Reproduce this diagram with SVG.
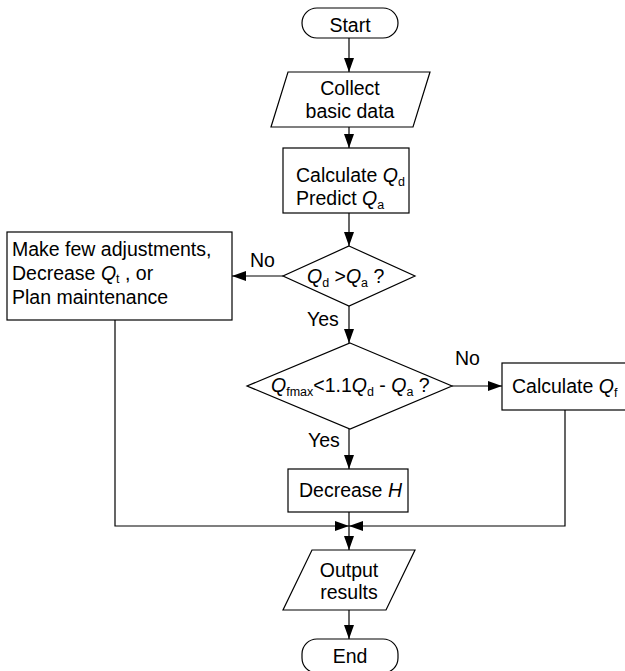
<svg xmlns="http://www.w3.org/2000/svg" width="625" height="671" viewBox="0 0 625 671">
<defs>
<style>
.s{fill:#fff;stroke:#000;stroke-width:1.2}
.c{fill:none;stroke:#000;stroke-width:1.2}
text{font-family:"Liberation Sans",Arial,sans-serif;font-size:19.5px;fill:#000}
.m{text-anchor:middle}
.i{font-style:italic}
.sub{font-size:12.5px;font-style:normal}
</style>
<marker id="ah" markerUnits="userSpaceOnUse" markerWidth="15" markerHeight="11" refX="14" refY="5" orient="auto">
<path d="M0,0 L14,5 L0,10 Z" fill="#000"/>
</marker>
</defs>
<rect width="625" height="671" fill="#fff"/>
<g id="connectors">
<path class="c" d="M349,38 V72" marker-end="url(#ah)"/>
<path class="c" d="M349,127 V148" marker-end="url(#ah)"/>
<path class="c" d="M349,213 V246" marker-end="url(#ah)"/>
<path class="c" d="M283,276 H232" marker-end="url(#ah)"/>
<path class="c" d="M349,306 V343" marker-end="url(#ah)"/>
<path class="c" d="M452,386 H502" marker-end="url(#ah)"/>
<path class="c" d="M349,429 V469" marker-end="url(#ah)"/>
<path class="c" d="M115,320 V526 H349" marker-end="url(#ah)"/>
<path class="c" d="M565,410 V526 H349" marker-end="url(#ah)"/>
<path class="c" d="M349,512 V550" marker-end="url(#ah)"/>
<path class="c" d="M349,610 V639" marker-end="url(#ah)"/>
<text x="250" y="267">No</text>
<text x="307" y="326">Yes</text>
<text x="455" y="365">No</text>
<text x="308" y="447">Yes</text>
</g>
<g id="start">
<rect class="s" x="302" y="8" width="96" height="30" rx="15"/>
<text class="m" x="350" y="32">Start</text>
</g>
<g id="collect">
<polygon class="s" points="288,72 430,72 413,127 271,127"/>
<text class="m" x="350" y="95">Collect</text>
<text class="m" x="350" y="118">basic data</text>
</g>
<g id="calc">
<rect class="s" x="283" y="148" width="126" height="65"/>
<text x="296" y="182">Calculate <tspan class="i">Q</tspan><tspan class="sub" dy="4">d</tspan></text>
<text x="296" y="205">Predict <tspan class="i">Q</tspan><tspan class="sub" dy="4">a</tspan></text>
</g>
<g id="d1">
<polygon class="s" points="349,246 415,276 349,306 283,276"/>
<text x="307" y="283"><tspan class="i">Q</tspan><tspan class="sub" dy="4">d</tspan><tspan dy="-4"> &gt;</tspan><tspan class="i">Q</tspan><tspan class="sub" dy="4">a</tspan><tspan dy="-4"> ?</tspan></text>
</g>
<g id="adjust">
<rect class="s" x="7" y="232" width="225" height="88"/>
<text x="12" y="256">Make few adjustments,</text>
<text x="12" y="280">Decrease <tspan class="i">Q</tspan><tspan class="sub" dy="3">t</tspan><tspan dy="-3"> , or</tspan></text>
<text x="12" y="304">Plan maintenance</text>
</g>
<g id="d2">
<polygon class="s" points="350,343 452,386 350,429 247,386"/>
<text x="271" y="392"><tspan class="i">Q</tspan><tspan class="sub" dy="4">fmax</tspan><tspan dy="-4">&lt;1.1</tspan><tspan class="i">Q</tspan><tspan class="sub" dy="4">d</tspan><tspan dy="-4"> - </tspan><tspan class="i">Q</tspan><tspan class="sub" dy="4">a</tspan><tspan dy="-4"> ?</tspan></text>
</g>
<g id="calcqf">
<rect class="s" x="502" y="363" width="130" height="47"/>
<text x="512" y="393">Calculate <tspan class="i">Q</tspan><tspan class="sub" dy="4">f</tspan></text>
</g>
<g id="decrease">
<rect class="s" x="288" y="469" width="120" height="43"/>
<text x="299" y="497">Decrease <tspan class="i">H</tspan></text>
</g>
<g id="output">
<polygon class="s" points="312,550 415,550 386,610 283,610"/>
<text class="m" x="349" y="577">Output</text>
<text class="m" x="349" y="599">results</text>
</g>
<g id="end">
<rect class="s" x="302" y="639" width="96" height="34" rx="15"/>
<text class="m" x="350" y="663">End</text>
</g>
</svg>
